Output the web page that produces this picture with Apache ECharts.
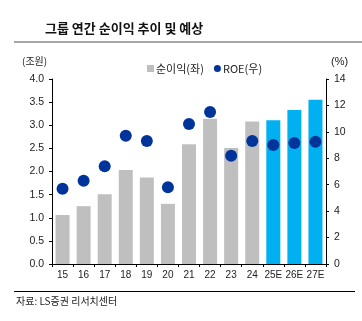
<!DOCTYPE html>
<html>
<head>
<meta charset="utf-8">
<script src="https://cdn.jsdelivr.net/npm/echarts@6/dist/echarts.min.js"></script>
<style>
  html, body { margin: 0; padding: 0; background: #fff; }
  #chart { width: 362px; height: 321px; }
</style>
</head>
<body>
<div id="chart"></div>
<script>
// Fiscal years (E = estimate)
const categories = ['15', '16', '17', '18', '19', '20', '21', '22', '23', '24', '25E', '26E', '27E'];
// Net income, trillion won (left axis)
const netIncome = [1.06, 1.25, 1.51, 2.03, 1.87, 1.30, 2.59, 3.14, 2.51, 3.08, 3.11, 3.33, 3.55];
// ROE, % (right axis)
const roe = [5.7, 6.3, 7.4, 9.7, 9.3, 5.8, 10.6, 11.5, 8.2, 9.3, 9.0, 9.15, 9.25];
const leftTicks = { min: 0, max: 4, interval: 0.5 };
const rightTicks = { min: 0, max: 14, interval: 2 };

const GRAY = '#BFBFBF';
const BLUE = '#00B0F0';
const NAVY = '#00349A';
const KR = '"Noto Sans CJK KR", sans-serif';
const NUM = '"Liberation Sans Narrow", "Liberation Sans", Arial, sans-serif';

const chart = echarts.init(document.getElementById('chart'), null, { renderer: 'canvas' });

const barData = netIncome.map((v, i) => ({
  value: v,
  itemStyle: { color: categories[i].endsWith('E') ? BLUE : GRAY }
}));

chart.setOption({
  animation: false,
  backgroundColor: '#fff',
  grid: { left: 52, right: 36, top: 79, bottom: 57 },
  legend: {
    top: 58,
    left: 142,
    itemGap: 10,
    itemWidth: 7,
    itemHeight: 7,
    textStyle: { fontFamily: KR, fontSize: 11, color: '#222', padding: [0, 0, 0, -3] },
    data: [
      { name: '순이익(좌)', icon: 'rect', itemStyle: { color: GRAY } },
      { name: 'ROE(우)', icon: 'circle', itemStyle: { color: NAVY } }
    ]
  },
  xAxis: {
    type: 'category',
    data: categories,
    axisLine: { lineStyle: { color: '#000', width: 1 } },
    axisTick: { show: true, length: 3, lineStyle: { color: '#000' } },
    axisLabel: { interval: 0, color: '#222', fontFamily: NUM, fontSize: 10, margin: 6 }
  },
  yAxis: [
    {
      type: 'value',
      min: leftTicks.min, max: leftTicks.max, interval: leftTicks.interval,
      axisLine: { show: true, lineStyle: { color: '#000' } },
      axisTick: { show: true, length: 3, lineStyle: { color: '#000' } },
      axisLabel: { color: '#222', fontFamily: NUM, fontSize: 10.5, margin: 8,
        formatter: v => v.toFixed(1) },
      splitLine: { show: false }
    },
    {
      type: 'value',
      min: rightTicks.min, max: rightTicks.max, interval: rightTicks.interval,
      position: 'right',
      axisLine: { show: true, lineStyle: { color: '#000' } },
      axisTick: { show: true, length: 3, lineStyle: { color: '#000' } },
      axisLabel: { color: '#222', fontFamily: NUM, fontSize: 10.5, margin: 8 },
      splitLine: { show: false }
    }
  ],
  series: [
    {
      name: '순이익(좌)',
      type: 'bar',
      yAxisIndex: 0,
      barWidth: 14,
      itemStyle: { color: GRAY },
      data: barData
    },
    {
      name: 'ROE(우)',
      type: 'scatter',
      yAxisIndex: 1,
      symbol: 'circle',
      symbolSize: 12,
      itemStyle: { color: NAVY, opacity: 1 },
      data: roe,
      z: 5
    }
  ],
  graphic: [
    {
      type: 'text', left: 45, top: 22,
      style: { text: '그룹 연간 순이익 추이 및 예상', fontFamily: KR, fontSize: 13, fontWeight: 'bold', fill: '#111' }
    },
    {
      type: 'rect', shape: { x: 14, y: 41, width: 348, height: 2 },
      style: { fill: '#A6A6A6' }
    },
    {
      type: 'text', left: 22, top: 56,
      style: { text: '(조원)', fontFamily: KR, fontSize: 10, fill: '#222' }
    },
    {
      type: 'text', left: 331, top: 56,
      style: { text: '(%)', fontFamily: NUM, fontSize: 11, fill: '#222' }
    },
    {
      type: 'rect', shape: { x: 14, y: 291, width: 341, height: 1 },
      style: { fill: '#000' }
    },
    {
      type: 'text', left: 16, top: 296,
      style: { text: '자료: LS증권 리서치센터', fontFamily: KR, fontSize: 10, fill: '#222' }
    }
  ]
});
</script>
</body>
</html>
